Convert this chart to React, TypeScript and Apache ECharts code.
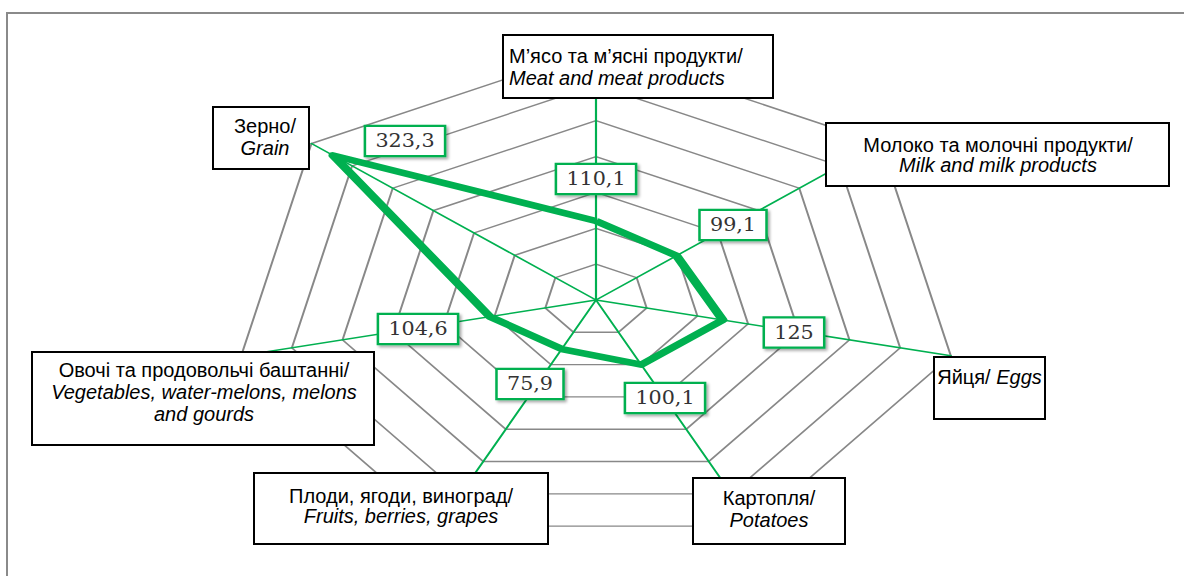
import React, { useEffect, useRef } from "react";
import * as echarts from "echarts";

// ---- data (clockwise from the top, as in the reference) ----
const categoriesUk = [
  "М’ясо та м’ясні продукти/",
  "Молоко та молочні продукти/",
  "Яйця/",
  "Картопля/",
  "Плоди, ягоди, виноград/",
  "Овочі та продовольчі баштанні/",
  "Зерно/",
];
const categoriesEn = [
  ["Meat and meat products"],
  ["Milk and milk products"],
  ["Eggs"],
  ["Potatoes"],
  ["Fruits, berries, grapes"],
  ["Vegetables, water-melons, melons", "and gourds"],
  ["Grain"],
];
const values = [110.1, 99.1, 125, 100.1, 75.9, 104.6, 323.3];
const axisMin = 0;
const axisMax = 350;
const ringCount = 7;

// ---- layout ----
const W = 1184;
const H = 576;
const CX = 596;
const CY = 300;
const RADIUS = 251;
const STRETCH = 1.45;
const GREEN = "#00B050";

// category boxes: rect + text anchor
const boxLayout = [
  { x: 503, y: 35, w: 270, h: 63, tx: 509, ty: 45, align: "left", lh: 22, inline: false },
  { x: 826, y: 123, w: 343, h: 63, tx: 998, ty: 134.5, align: "center", lh: 20, inline: false },
  { x: 934, y: 357, w: 111, h: 62, tx: 989.5, ty: 366, align: "center", lh: 22, inline: true },
  { x: 693, y: 478, w: 152, h: 66, tx: 769, ty: 487, align: "center", lh: 22, inline: false },
  { x: 254, y: 473, w: 294, h: 71, tx: 401, ty: 486, align: "center", lh: 20, inline: false },
  { x: 32, y: 352, w: 342, h: 93, tx: 204, ty: 358.5, align: "center", lh: 22, inline: false },
  { x: 213, y: 107, w: 96, h: 62, tx: 265, ty: 115, align: "center", lh: 22, inline: false },
];
// data label box centres
const labelCenters = [
  [596, 179],
  [733, 225],
  [794, 332.5],
  [665, 398],
  [530, 384],
  [418, 329],
  [405, 141],
];

const fmt = (v: number) => String(v).replace(".", ",");

export default function App() {
  const radarRef = useRef<HTMLDivElement>(null);
  const overlayRef = useRef<HTMLDivElement>(null);

  useEffect(() => {
    const radar = echarts.init(radarRef.current!, undefined, { renderer: "svg" });
    const overlay = echarts.init(overlayRef.current!, undefined, { renderer: "svg" });

    // ECharts places radar indicators counter-clockwise: reorder
    const order = [0, 6, 5, 4, 3, 2, 1];
    radar.setOption({
      animation: false,
      radar: {
        center: [CX, CY],
        radius: RADIUS,
        startAngle: 90,
        splitNumber: ringCount,
        shape: "polygon",
        indicator: order.map((i) => ({ name: categoriesUk[i], min: axisMin, max: axisMax })),
        axisName: { show: false },
        axisLine: { lineStyle: { color: GREEN, width: 1.5 } },
        splitLine: { lineStyle: { color: "#888888", width: 1.4 } },
        splitArea: { show: false },
        axisTick: { show: false },
        axisLabel: { show: false },
      },
      series: [
        {
          type: "radar",
          symbol: "none",
          lineStyle: { color: GREEN, width: 6.5 },
          data: [{ value: order.map((i) => values[i]), name: "2019" }],
        },
      ],
    });

    const graphics: any[] = [];
    graphics.push({
      type: "rect",
      shape: { x: 7, y: 13, width: 1400, height: 800 },
      style: { fill: "none", stroke: "#8A8A8A", lineWidth: 2 },
    });

    categoriesUk.forEach((uk, i) => {
      const b = boxLayout[i];
      graphics.push({
        type: "rect",
        shape: { x: b.x, y: b.y, width: b.w, height: b.h },
        style: { fill: "#fff", stroke: "#000", lineWidth: 2 },
        z: 10,
      });
      const en = categoriesEn[i];
      const text = b.inline
        ? `{r|${uk} }{i|${en.join(" ")}}`
        : `{r|${uk}}\n` + en.map((l) => `{i|${l}}`).join("\n");
      graphics.push({
        type: "text",
        x: b.tx,
        y: b.ty,
        z: 11,
        style: {
          text,
          align: b.align,
          verticalAlign: "top",
          fill: "#000",
          rich: {
            r: { fontFamily: "Liberation Sans", fontSize: 20, lineHeight: b.lh, fill: "#000" },
            i: { fontFamily: "Liberation Sans", fontSize: 20, fontStyle: "italic", lineHeight: b.lh, fill: "#000" },
          },
        },
      });
    });

    values.forEach((v, i) => {
      const [lx, ly] = labelCenters[i];
      graphics.push({
        type: "text",
        x: lx,
        y: ly,
        scaleX: 1.15,
        z: 20,
        style: {
          text: fmt(v),
          fontFamily: "DejaVu Serif",
          fontSize: 18,
          lineHeight: 18,
          fill: "#333333",
          align: "center",
          verticalAlign: "middle",
          backgroundColor: "#fff",
          borderColor: GREEN,
          borderWidth: 2.2,
          padding: [5, 8],
          shadowBlur: 3,
          shadowColor: "rgba(0,0,0,0.35)",
          shadowOffsetX: 2,
          shadowOffsetY: 2,
        },
      });
    });

    overlay.setOption({ animation: false, graphic: graphics });

    return () => {
      radar.dispose();
      overlay.dispose();
    };
  }, []);

  return (
    <div
      style={{
        position: "absolute",
        left: 0,
        top: 0,
        width: W,
        height: H,
        overflow: "hidden",
        background: "#fff",
      }}
    >
      <div
        ref={radarRef}
        style={{
          position: "absolute",
          left: 0,
          top: 0,
          width: W,
          height: H,
          transform: `scaleX(${STRETCH})`,
          transformOrigin: `${CX}px ${CY}px`,
        }}
      />
      <div ref={overlayRef} style={{ position: "absolute", left: 0, top: 0, width: W, height: H }} />
    </div>
  );
}
